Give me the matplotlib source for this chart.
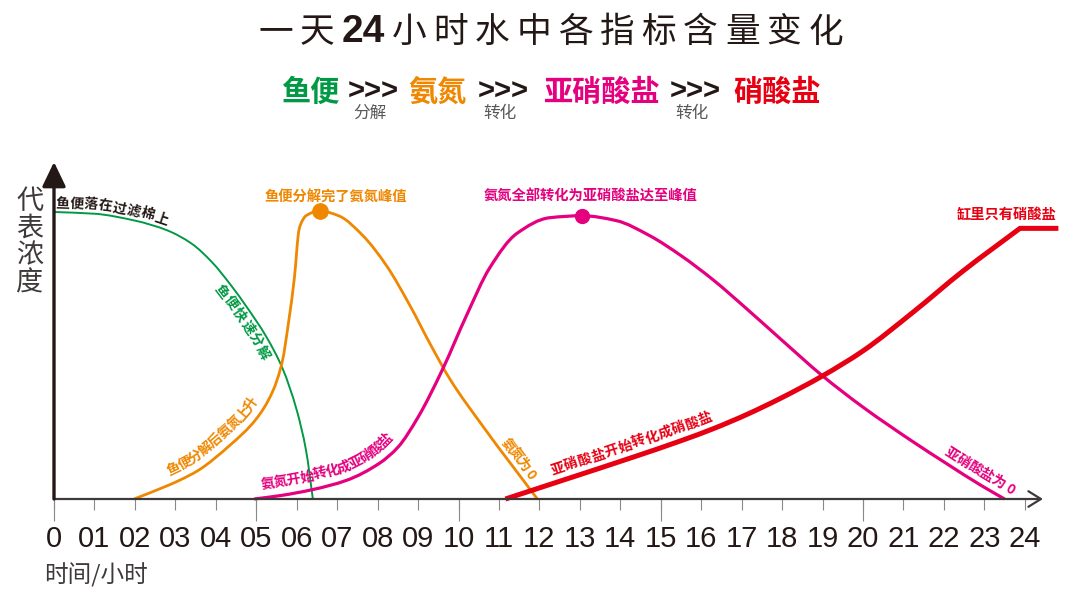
import numpy as np
import matplotlib
matplotlib.use("Agg")
import matplotlib.pyplot as plt
from matplotlib.path import Path
from matplotlib.patches import PathPatch
from matplotlib.transforms import IdentityTransform

plt.rcParams['font.family'] = ['Noto Sans CJK SC', 'DejaVu Sans']

# Eixo x: horas do dia
horas = list(range(25))
rotulos_horas = ["0", "01", "02", "03", "04", "05", "06", "07", "08", "09", "10", "11", "12",
                 "13", "14", "15", "16", "17", "18", "19", "20", "21", "22", "23", "24"]
horas_longas = [0, 5, 10, 15, 20]

# 鱼便 (verde)
peixe_h = [0, 1.0, 2.0, 2.8, 3.4, 3.9, 4.4, 4.75, 5.25, 5.65, 6.0, 6.23, 6.4]
peixe_v = [100, 99.4, 97.0, 93.6, 89.0, 82.6, 74.0, 67.2, 56.5, 45.5, 31.0, 17.0, 0]

# 氨氮 (laranja)
amonia_h = [1.98, 2.78, 3.1, 3.57, 4.33, 5.0, 5.4, 5.64, 5.81, 5.94, 6.06, 6.14, 6.23, 6.57,
            7.05, 7.64, 8.22, 8.8, 9.3, 9.8, 10.6, 11.95]
amonia_v = [0, 4.5, 6.5, 10.0, 18.5, 27.9, 37.3, 47.7, 62.7, 76.7, 94.0, 97.0, 98.7, 100.4,
            98.6, 91.7, 81.3, 67.4, 54.0, 41.5, 25.4, 0]

# 亚硝酸盐 (magenta)
nitrito_h = [4.95, 5.6, 6.4, 7.23, 8.05, 8.5, 9.0, 9.6, 10.2, 10.77, 11.44, 12.25, 13.06,
             13.9, 14.72, 15.5, 16.3, 17.13, 17.95, 19.0, 20.0, 21.23, 22.07, 22.9, 23.5]
nitrito_v = [0, 1.2, 3.3, 6.5, 12.5, 18.0, 28.5, 45.0, 64.0, 80.5, 92.5, 98.0, 98.7,
             97.0, 91.8, 84.8, 76.3, 66.2, 55.9, 42.9, 32.0, 20.0, 12.3, 4.9, 0]

# 硝酸盐 (vermelho) - o último ponto é o patamar reto
nitrato_h = [11.16, 12.68, 14.32, 15.5, 16.3, 17.12, 17.95, 19.0, 20.0, 21.23, 22.47, 23.88, 24.83]
nitrato_v = [0, 7.0, 14.6, 20.3, 24.5, 29.4, 35.0, 42.9, 51.6, 65.0, 79.4, 94.3, 94.3]

VERDE = "#009944"
LARANJA = "#ef8700"
MAGENTA = "#e4007f"
VERMELHO = "#e60012"
PRETO = "#231815"
CINZA = "#595757"

W, H = 1080, 595
fig = plt.figure(figsize=(W / 100, H / 100), dpi=100)


def px(x, y):
    # pixel (a partir do canto superior esquerdo) -> fração da figura
    return x / W, 1 - y / H


ax = fig.add_axes([54 / W, 1 - 499 / H, (1043 - 54) / W, (499 - 162) / H])
ax.set_xlim(0, (1043 - 54) / 40.45)
ax.set_ylim(0, (499 - 162) / 2.87)
for sp in ax.spines.values():
    sp.set_visible(False)
ax.set_yticks([])

# eixos com setas
ax.annotate("", xy=(1, 0), xytext=(0, 0), xycoords="axes fraction",
            arrowprops=dict(arrowstyle="->,head_length=0.45,head_width=0.28", lw=1.6,
                            color="#3e3a39", shrinkA=0, shrinkB=0, mutation_scale=20))
ax.annotate("", xy=(0, 1), xytext=(0, 0), xycoords="axes fraction",
            arrowprops=dict(arrowstyle="-|>,head_length=0.75,head_width=0.36", lw=2.4,
                            color=PRETO, shrinkA=0, shrinkB=0, mutation_scale=20))

# ticks
ax.set_xticks(horas, rotulos_horas)
ax.set_xticks(horas_longas, minor=True)
ax.xaxis.remove_overlapping_locs = False
ax.tick_params(axis="x", which="major", length=8, width=0.8, color="#898989", pad=11,
               labelsize=21, labelcolor=PRETO)
ax.tick_params(axis="x", which="minor", length=16, width=0.8, color="#898989")
for lb in ax.get_xticklabels():
    lb.set_family(["Liberation Sans", "DejaVu Sans"])


def caminho_suave(xs, ys, reto_final=False):
    # curva de Bézier (Hermite monotônica) passando pelos pontos lidos
    xs = np.asarray(xs, float)
    ys = np.asarray(ys, float)
    n = len(xs) - (1 if reto_final else 0)
    x, y = xs[:n], ys[:n]
    h = np.diff(x)
    d = np.diff(y) / h
    m = np.zeros(n)
    m[0], m[-1] = d[0], d[-1]
    for k in range(1, n - 1):
        if d[k - 1] * d[k] > 0:
            w1 = 2 * h[k] + h[k - 1]
            w2 = h[k] + 2 * h[k - 1]
            m[k] = (w1 + w2) / (w1 / d[k - 1] + w2 / d[k])
    verts = [(x[0], y[0])]
    codes = [Path.MOVETO]
    for k in range(n - 1):
        verts += [(x[k] + h[k] / 3, y[k] + m[k] * h[k] / 3),
                  (x[k + 1] - h[k] / 3, y[k + 1] - m[k + 1] * h[k] / 3),
                  (x[k + 1], y[k + 1])]
        codes += [Path.CURVE4] * 3
    if reto_final:
        verts.append((xs[-1], ys[-1]))
        codes.append(Path.LINETO)
    return Path(verts, codes)


def desenha(xs, ys, cor, lw, reto_final=False):
    caminho = caminho_suave(xs, ys, reto_final)
    ax.add_patch(PathPatch(caminho, fill=False, edgecolor=cor, lw=lw, clip_on=False,
                           joinstyle="miter", capstyle="butt"))
    return caminho


cam_peixe = desenha(peixe_h, peixe_v, VERDE, 1.4)
cam_amonia = desenha(amonia_h, amonia_v, LARANJA, 2.0)
cam_nitrito = desenha(nitrito_h, nitrito_v, MAGENTA, 2.3)
cam_nitrato = desenha(nitrato_h, nitrato_v, VERMELHO, 3.6, reto_final=True)

i = int(np.argmax(amonia_v))
ax.plot(amonia_h[i], amonia_v[i], "o", ms=11, color=LARANJA, clip_on=False)
j = int(np.argmax(nitrito_v))
ax.plot(nitrito_h[j], nitrito_v[j], "o", ms=10, color=MAGENTA, clip_on=False)


def texto_na_curva(caminho, texto, h0, desloc, passo, cor, tam=10):
    pts = caminho.transformed(ax.transData).to_polygons(closed_only=False)[0]
    s = np.concatenate([[0], np.cumsum(np.hypot(*np.diff(pts, axis=0).T))])
    x0 = ax.transData.transform((h0, 0))[0]
    s0 = np.interp(x0, pts[:, 0], s)
    for k, ch in enumerate(texto):
        si = s0 + (k + 0.5) * passo
        a = [np.interp(si - passo * 0.6, s, pts[:, q]) for q in (0, 1)]
        b = [np.interp(si + passo * 0.6, s, pts[:, q]) for q in (0, 1)]
        c = [np.interp(si, s, pts[:, q]) for q in (0, 1)]
        ang = np.arctan2(b[1] - a[1], b[0] - a[0])
        x = c[0] - desloc * np.sin(ang)
        y = c[1] + desloc * np.cos(ang)
        ax.text(x, y, ch, transform=IdentityTransform(), rotation=np.degrees(ang),
                rotation_mode="anchor", ha="center", va="center", color=cor,
                fontsize=tam, fontweight="bold", clip_on=False)


texto_na_curva(cam_peixe, "鱼便落在过滤棉上", 0.03, 9, 14, PRETO)
texto_na_curva(cam_peixe, "鱼便快速分解", 4.25, -11, 15, VERDE)
texto_na_curva(cam_amonia, "鱼便分解后氨氮上升", 2.95, 13, 13.5, LARANJA)
texto_na_curva(cam_amonia, "氨氮为0", 10.95, 9, 12.5, LARANJA)
texto_na_curva(cam_nitrito, "氨氮开始转化成亚硝酸盐", 5.15, 13, 13.7, MAGENTA)
texto_na_curva(cam_nitrito, "亚硝酸盐为0", 21.9, 11, 13.7, MAGENTA)
texto_na_curva(cam_nitrato, "亚硝酸盐开始转化成硝酸盐", 12.37, 12.5, 14.3, VERMELHO)

# rótulos horizontais
fig.text(*px(336, 197), "鱼便分解完了氨氮峰值", color=LARANJA, fontsize=10.3,
         fontweight="bold", ha="center", va="center")
fig.text(*px(591, 197), "氨氮全部转化为亚硝酸盐达至峰值", color=MAGENTA, fontsize=10.3,
         fontweight="bold", ha="center", va="center")
fig.text(*px(1007, 215), "缸里只有硝酸盐", color=VERMELHO, fontsize=10.3,
         fontweight="bold", ha="center", va="center")

# títulos dos eixos
fig.text(*px(30, 242), "代\n表\n浓\n度", color="#3e3a39", fontsize=19.5, fontweight="light",
         ha="center", va="center", linespacing=1.0)
fig.text(*px(44, 575), "时间/小时", color="#3e3a39", fontsize=17, fontweight="light",
         ha="left", va="center")

# título com espaçamento entre letras
renderer = fig.canvas.get_renderer()
estilo_cjk = dict(fontsize=25, fontweight="light", color=PRETO)
pecas = [("一", estilo_cjk), ("天", estilo_cjk),
         ("24", dict(fontsize=28, fontweight="bold", color=PRETO,
                     family=["Liberation Sans", "DejaVu Sans"]))]
pecas += [(ch, estilo_cjk) for ch in "小时水中各指标含量变化"]
itens = []
for txt, est in pecas:
    t = fig.text(0, 0, txt, ha="center", va="baseline", **est)
    itens.append((t, t.get_window_extent(renderer).width))
largura = 585
espaco = (largura - sum(w for _, w in itens)) / (len(itens) - 1)
x = 258
for t, w in itens:
    t.set_position(px(x + w / 2, 42))
    x += w + espaco

# linha do processo
processo = [("鱼便", 310, VERDE), ("氨氮", 437, LARANJA), ("亚硝酸盐", 601, MAGENTA),
            ("硝酸盐", 777, VERMELHO)]
for txt, xc, cor in processo:
    fig.text(*px(xc, 101), txt, color=cor, fontsize=21, fontweight="bold",
             ha="center", va="baseline")
for xc, sub in [(373, "分解"), (503, "转化"), (695, "转化")]:
    fig.text(*px(xc, 99.5), ">>>", color=PRETO, fontsize=21, fontweight="bold",
             family=["Liberation Sans", "DejaVu Sans"], ha="center", va="baseline")
    fig.text(*px(xc - 3, 113), sub, color=CINZA, fontsize=12, ha="center", va="center")

fig.savefig("out.png", dpi=100)
